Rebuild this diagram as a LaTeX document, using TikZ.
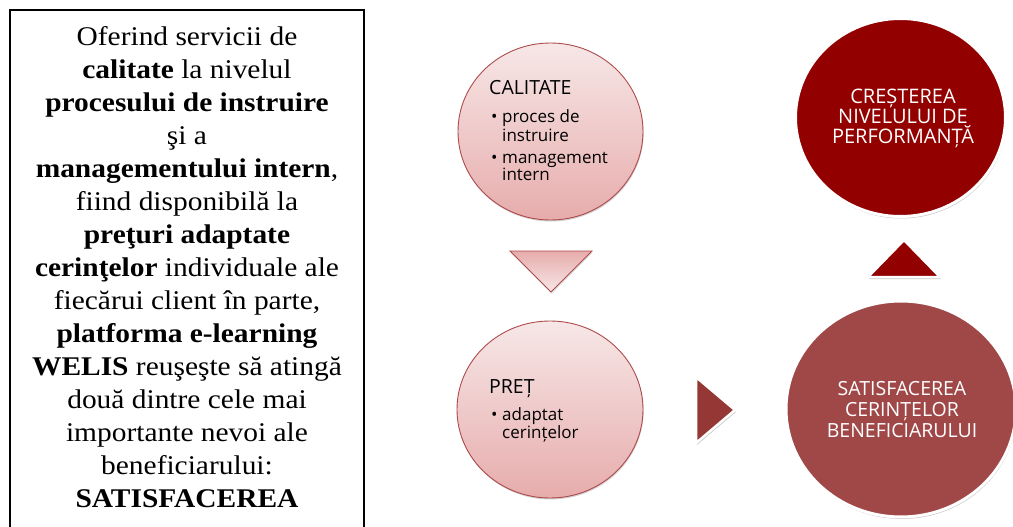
\documentclass[tikz,border=0pt]{standalone}
\usepackage{fontspec}
\setmainfont{Liberation Serif}
\newfontfamily\osans{Open Sans}
\usetikzlibrary{shapes.geometric,shadows}
\definecolor{pinkedge}{HTML}{AE4B4B}
\definecolor{pinktop}{HTML}{F7E7E7}
\definecolor{pinkbot}{HTML}{E7ACAC}
\definecolor{darkred}{HTML}{920000}
\definecolor{midred}{HTML}{A04848}
\definecolor{arrowred}{HTML}{953735}
\tikzset{
  pinkcircle/.style={ellipse, inner sep=0pt, draw=pinkedge, line width=0.9pt,
    top color=pinktop, bottom color=pinkbot,
    drop shadow={shadow xshift=0.6pt, shadow yshift=-1.5pt, opacity=0.18, fill=black}},
  darkcircle/.style={ellipse, inner sep=0pt, draw=white, line width=3pt,
    drop shadow={shadow xshift=0.8pt, shadow yshift=-2pt, opacity=0.22, fill=black}},
  darktri/.style={draw=white, line width=2.5pt, line join=miter,
    drop shadow={shadow xshift=0.8pt, shadow yshift=-2pt, opacity=0.22, fill=black}},
  headtext/.style={anchor=base west, inner sep=0pt, font=\osans\fontsize{19.5}{20}\selectfont},
  itemtext/.style={anchor=base west, inner sep=0pt, font=\osans\fontsize{17}{18}\selectfont},
  whitetext/.style={inner sep=0pt, align=center, text=white, anchor=north}
}
\begin{document}
\begin{tikzpicture}[x=1pt,y=-1pt]
\useasboundingbox (0,0) rectangle (1013,527);
\fill[white] (0,0) rectangle (1013,527);
% left text box
\draw[line width=1.6pt] (10,10) rectangle (364,600);
\node[anchor=north, inner sep=0pt, align=center, xscale=1.09, font=\fontsize{27}{33}\selectfont] (lefttext) at (187,26.5) {%
Oferind servicii de\\
\textbf{calitate} la nivelul\\
\textbf{procesului de instruire}\\
şi a\\
\textbf{managementului intern},\\
fiind disponibilă la\\
\textbf{preţuri adaptate}\\
\textbf{cerinţelor} individuale ale\\
fiecărui client în parte,\\
\textbf{platforma e-learning}\\
\textbf{WELIS} reuşeşte să atingă\\
două dintre cele mai\\
importante nevoi ale\\
beneficiarului:\\
\textbf{SATISFACEREA}};

% pink circles
\node[pinkcircle, minimum width=185pt, minimum height=177pt] (cal) at (550.5,131.5) {};
\node[pinkcircle, minimum width=186pt, minimum height=177pt] (pret) at (550,409.5) {};

% down triangle
\shade[top color=pinkbot, bottom color=pinktop, draw=pinkedge, line width=0.9pt,
  drop shadow={shadow xshift=0.6pt, shadow yshift=-1.5pt, opacity=0.15, fill=black}]
  (510,251) -- (592,251) -- (551,292) -- cycle;

% text in CALITATE
\node[headtext] (calhead) at (489,95) {CALITATE};
\node[itemtext] (calb1) at (491,123) {•};
\node[itemtext] (cali1) at (502,123) {proces de};
\node[itemtext] (cali1b) at (502,141) {instruire};
\node[itemtext] (calb2) at (491,163) {•};
\node[itemtext] (cali2) at (502,163) {management};
\node[itemtext] (cali2b) at (502,180) {intern};

% text in PRET
\node[headtext] (prethead) at (489,393) {PREȚ};
\node[itemtext] (pretb1) at (491,420) {•};
\node[itemtext] (preti1) at (502,420) {adaptat};
\node[itemtext] (preti1b) at (502,438) {cerințelor};

% right arrow triangle
\filldraw[darktri, fill=arrowred] (696,377) -- (735,410) -- (696,443) -- cycle;

% dark circles
\node[darkcircle, fill=darkred, minimum width=210pt, minimum height=198pt] (crest) at (900.5,117.5) {};
\node[whitetext, font=\osans\fontsize{20}{20}\selectfont] (cresttext) at (903,88.7) {CREȘTEREA\\NIVELULUI DE\\PERFORMANȚĂ};

\node[darkcircle, fill=midred, minimum width=230pt, minimum height=216pt] (satis) at (901,409) {};
\node[whitetext, font=\osans\fontsize{19.5}{21}\selectfont] (satistext) at (902,381) {SATISFACEREA\\CERINȚELOR\\BENEFICIARULUI};

% up triangle
\filldraw[darktri, fill=darkred] (868,277) -- (940,277) -- (904,240) -- cycle;
\end{tikzpicture}
\end{document}
